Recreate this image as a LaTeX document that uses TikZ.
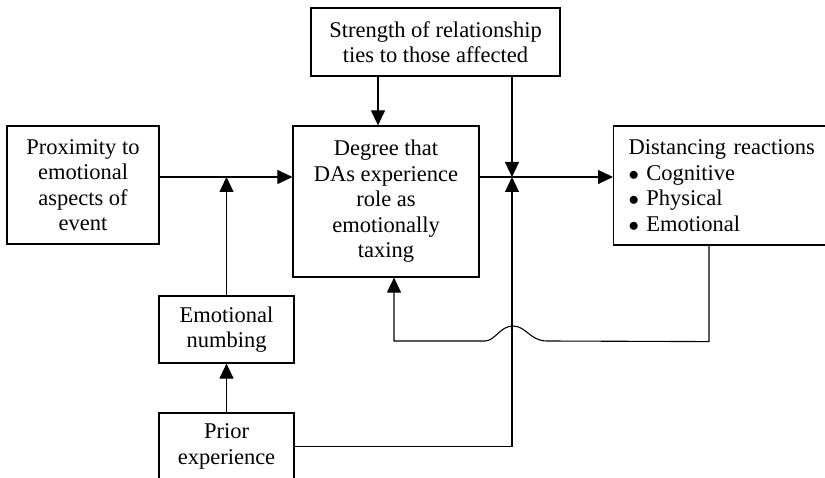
\documentclass[tikz,border=0pt]{standalone}
\usepackage{fontspec}
\setmainfont{Liberation Serif}
\usetikzlibrary{arrows.meta}

\begin{document}
\begin{tikzpicture}[x=1pt, y=-1pt,
    box/.style={draw, line width=1.2pt, align=center, inner sep=0pt,
      font=\fontsize{22.5}{25.5}\selectfont},
    arr/.style={line width=1.1pt, -{Triangle[length=15pt, width=14pt]}},
    ln/.style={line width=1.1pt}]
  \clip (0,0) rectangle (825,478);
  % boxes
  \node[box, minimum width=249pt, minimum height=68pt] (strength) at (435.5,42)
    {Strength of relationship\\ties to those affected};
  \node[box, minimum width=152pt, minimum height=118pt] (prox) at (83,185)
    {Proximity to\\emotional\\aspects of\\event};
  \node[box, minimum width=186pt, minimum height=151pt] (degree) at (386,201.5)
    {Degree that\\DAs experience\\role as\\emotionally\\taxing};
  \node[box, anchor=west, inner xsep=15pt, text width=245pt, align=left,
    minimum height=119pt] (dist) at (613,185.5)
    {Distancing reactions\\$\bullet$ Cognitive\\$\bullet$ Physical\\$\bullet$ Emotional};
  \node[box, minimum width=135pt, minimum height=67pt] (numbing) at (226.5,329.5)
    {Emotional\\numbing};
  \node[box, minimum width=135pt, minimum height=67pt] (prior) at (226.5,446.5)
    {Prior\\experience};
  % junction on the main row
  \coordinate (j) at (512,177);
  % connectors
  \draw[arr] ([xshift=-8pt]degree.north |- strength.south) -- ([xshift=-8pt]degree.north);
  \draw[arr] (strength.south -| j) -- (j);
  \draw[arr] (prox.east |- j) -- (degree.west |- j);
  \draw[arr] (degree.east |- j) -- (dist.west |- j);
  \draw[arr] (numbing.north) -- (numbing.north |- j);
  \draw[arr] (prior.north) -- (numbing.south);
  \draw[arr] (prior.east) -| (j);
  % feedback loop, hopping over the vertical line
  \draw[arr] ([xshift=96pt]dist.south west) -- ++(0,96) -- (547,341)
    .. controls (530,341) and (526,326) .. (513,326)
    .. controls (500,326) and (495,341) .. (485,341)
    -- (394,341) -- ([xshift=8pt]degree.south);
\end{tikzpicture}
\end{document}
